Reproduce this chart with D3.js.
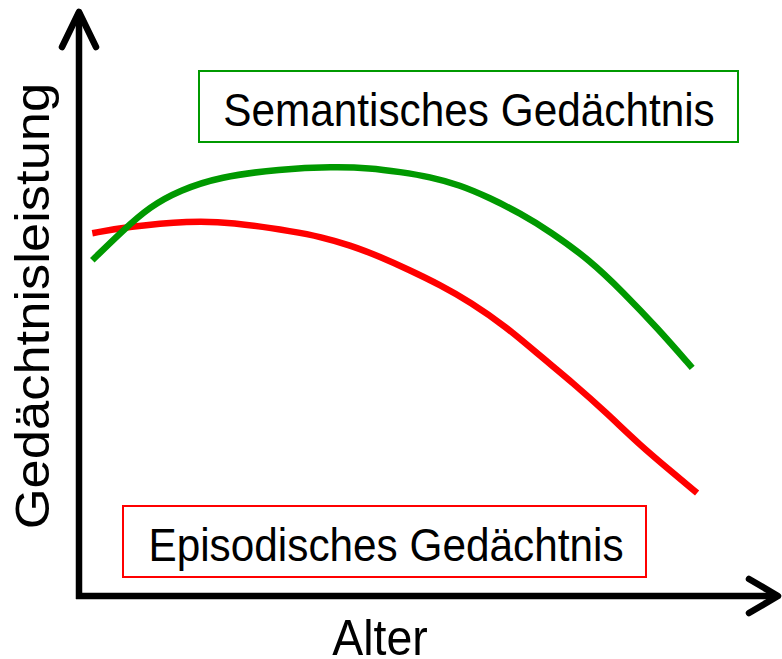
<!DOCTYPE html>
<html>
<head>
<meta charset="utf-8">
<script src="https://cdn.jsdelivr.net/npm/d3@7"></script>
<style>
  html, body { margin: 0; padding: 0; background: #fff; }
  svg { display: block; font-family: "Liberation Sans", Arial, sans-serif; }
</style>
</head>
<body>
<div id="chart"></div>
<script>
// schematic: age (0-100) vs. memory performance (0-100)
const semanticAge = [1.9, 6.3, 10.1, 14.4, 20.1, 28.7, 36.3, 41.6, 45.9, 50.1, 54.4, 58.7, 63.0, 67.3, 73.0, 77.7, 82.6, 87.6];
const semanticValues = [57.1, 62.2, 66.2, 69.0, 71.3, 72.6, 73.0, 72.8, 72.1, 71.3, 69.9, 67.7, 65.1, 62.0, 57.1, 51.7, 45.6, 38.8];

const episodicAge = [1.9, 6.9, 15.9, 21.6, 31.1, 34.4, 38.7, 43.0, 47.3, 51.6, 55.9, 60.9, 65.9, 70.6, 75.4, 80.1, 84.9, 88.3];
const episodicValues = [61.7, 62.8, 63.8, 63.6, 61.9, 61.1, 59.7, 57.7, 55.4, 52.9, 50.0, 45.9, 40.8, 36.2, 31.1, 25.7, 20.9, 17.5];

const xLabel = "Alter";
const yLabel = "Gedächtnisleistung";
const semanticLabel = "Semantisches Gedächtnis";
const episodicLabel = "Episodisches Gedächtnis";

const width = 782;
const height = 659;

const x = d3.scaleLinear().domain([0, 100]).range([79, 779]);
const y = d3.scaleLinear().domain([0, 100]).range([596, 8]);

const svg = d3.select("#chart")
  .append("svg")
  .attr("width", width)
  .attr("height", height)
  .attr("viewBox", [0, 0, width, height]);

const line = d3.line()
  .x(d => x(d[0]))
  .y(d => y(d[1]))
  .curve(d3.curveBasis);

// curves
svg.append("path")
  .datum(d3.zip(episodicAge, episodicValues))
  .attr("fill", "none")
  .attr("stroke", "#ff0000")
  .attr("stroke-width", 6.5)
  .attr("d", line);

svg.append("path")
  .datum(d3.zip(semanticAge, semanticValues))
  .attr("fill", "none")
  .attr("stroke", "#009900")
  .attr("stroke-width", 6.5)
  .attr("d", line);

// axes with open arrowheads
const x0 = x(0), y0 = y(0);
const yTip = y(100) + 4;
const xTip = x(100) - 1;

const axes = svg.append("g")
  .attr("fill", "none")
  .attr("stroke", "#000")
  .attr("stroke-width", 6.5)
  .attr("stroke-linecap", "round")
  .attr("stroke-linejoin", "round");

axes.append("path")
  .attr("stroke-linecap", "butt")
  .attr("d", `M${x0},${y0 + 3}V${yTip}M${x0 - 3},${y0}H${xTip}`);

axes.append("path")
  .attr("d", `M${x0 - 17},${yTip + 35}L${x0},${yTip}L${x0 + 17},${yTip + 35}`);

axes.append("path")
  .attr("d", `M${xTip - 29},${y0 - 17}L${xTip},${y0}L${xTip - 29},${y0 + 17}`);

// axis titles
svg.append("text")
  .attr("transform", "translate(49,306) rotate(-90) scale(1,0.92)")
  .attr("text-anchor", "middle")
  .style("font-size", "52.5px")
  .text(yLabel);

svg.append("text")
  .attr("transform", "translate(380,655) scale(0.93,1)")
  .attr("text-anchor", "middle")
  .style("font-size", "50px")
  .text(xLabel);

// labelled boxes
function labelBox(bx, by, bw, bh, color, label, tx, ty) {
  svg.append("rect")
    .attr("x", bx)
    .attr("y", by)
    .attr("width", bw)
    .attr("height", bh)
    .attr("fill", "none")
    .attr("stroke", color)
    .attr("stroke-width", 2);
  svg.append("text")
    .attr("transform", `translate(${tx},${ty}) scale(0.92,1)`)
    .attr("text-anchor", "middle")
    .style("font-size", "46px")
    .text(label);
}

labelBox(199, 71, 539, 71, "#009900", semanticLabel, 469, 126);
labelBox(123, 506, 523, 71, "#ff0000", episodicLabel, 386, 561);
</script>
</body>
</html>
